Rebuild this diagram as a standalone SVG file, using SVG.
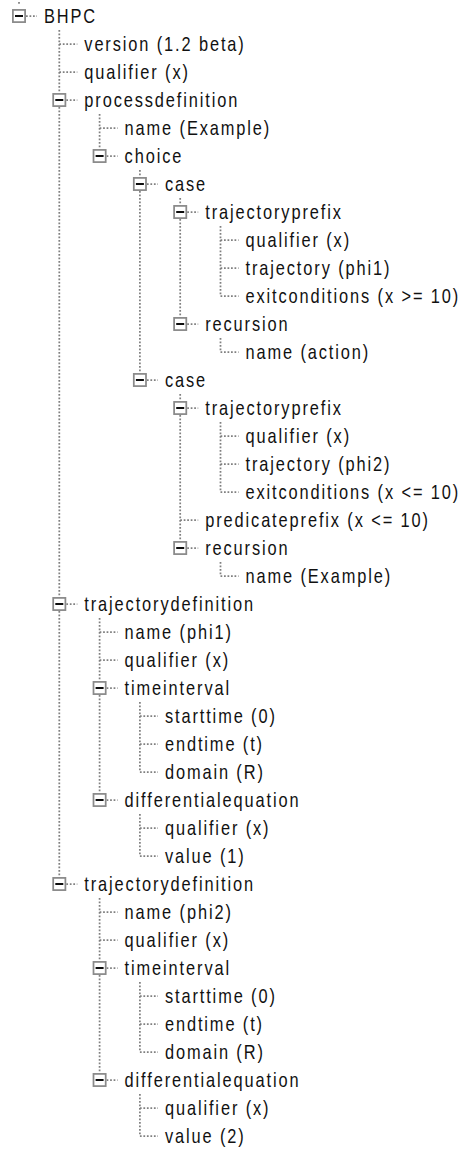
<svg xmlns="http://www.w3.org/2000/svg" xmlns:xlink="http://www.w3.org/1999/xlink" width="463" height="1149" viewBox="0 0 463 1149">
  <style>
    .dot { fill: none; stroke: #808080; stroke-width: 1.75; stroke-dasharray: 1.75 1.75; }
    .lbl { font-family: "Liberation Sans", Arial, sans-serif; font-size: 20px; letter-spacing: 2.3px; fill: #111; }
  </style>
  <defs>
    <!-- expanded-node toggle: grey square with a black minus -->
    <g id="minus">
      <rect x="-6.1" y="-6.1" width="12.2" height="12.2" fill="#fff" stroke="#8a8a8a" stroke-width="1.75"/>
      <line x1="-4" y1="0" x2="4" y2="0" stroke="#000" stroke-width="1.9"/>
    </g>
  </defs>
  <rect width="463" height="1149" fill="#fff"/>

  <!-- tree lines: columns at x = 19 + 40.3k, rows every 28px from y = 16 -->
  <g id="connectors" class="dot">
    <path d="M19 2v3"/>
    <!-- vertical sibling lines -->
    <path d="M59.3 30V884"/>
    <path d="M99.6 114V156"/>
    <path d="M139.9 170V380"/>
    <path d="M180.2 198V324"/>
    <path d="M220.5 226V296"/>
    <path d="M220.5 338V352"/>
    <path d="M180.2 394V548"/>
    <path d="M220.5 422V492"/>
    <path d="M220.5 562V576"/>
    <path d="M99.6 618V800"/>
    <path d="M139.9 702V772"/>
    <path d="M139.9 814V856"/>
    <path d="M99.6 898V1080"/>
    <path d="M139.9 982V1052"/>
    <path d="M139.9 1094V1136"/>
    <!-- horizontal stubs from box or line to label -->
    <path d="M26 16H37"/>
    <path d="M59.3 44H77.3"/>
    <path d="M59.3 72H77.3"/>
    <path d="M66.3 100H77.3"/>
    <path d="M99.6 128H117.6"/>
    <path d="M106.6 156H117.6"/>
    <path d="M146.9 184H157.9"/>
    <path d="M187.2 212H198.2"/>
    <path d="M220.5 240H238.5"/>
    <path d="M220.5 268H238.5"/>
    <path d="M220.5 296H238.5"/>
    <path d="M187.2 324H198.2"/>
    <path d="M220.5 352H238.5"/>
    <path d="M146.9 380H157.9"/>
    <path d="M187.2 408H198.2"/>
    <path d="M220.5 436H238.5"/>
    <path d="M220.5 464H238.5"/>
    <path d="M220.5 492H238.5"/>
    <path d="M180.2 520H198.2"/>
    <path d="M187.2 548H198.2"/>
    <path d="M220.5 576H238.5"/>
    <path d="M66.3 604H77.3"/>
    <path d="M99.6 632H117.6"/>
    <path d="M99.6 660H117.6"/>
    <path d="M106.6 688H117.6"/>
    <path d="M139.9 716H157.9"/>
    <path d="M139.9 744H157.9"/>
    <path d="M139.9 772H157.9"/>
    <path d="M106.6 800H117.6"/>
    <path d="M139.9 828H157.9"/>
    <path d="M139.9 856H157.9"/>
    <path d="M66.3 884H77.3"/>
    <path d="M99.6 912H117.6"/>
    <path d="M99.6 940H117.6"/>
    <path d="M106.6 968H117.6"/>
    <path d="M139.9 996H157.9"/>
    <path d="M139.9 1024H157.9"/>
    <path d="M139.9 1052H157.9"/>
    <path d="M106.6 1080H117.6"/>
    <path d="M139.9 1108H157.9"/>
    <path d="M139.9 1136H157.9"/>
  </g>

  <!-- labels use a narrowed sans (scale .82 horizontally) to get the tall, spaced bitmap-font look -->
  <g id="bhpc"><use xlink:href="#minus" x="19" y="16"/><text class="lbl" transform="translate(44 23.2) scale(.82 1)">BHPC</text></g>
  <g id="version"><text class="lbl" transform="translate(84.3 51.2) scale(.82 1)">version (1.2 beta)</text></g>
  <g id="qualifier-root"><text class="lbl" transform="translate(84.3 79.2) scale(.82 1)">qualifier (x)</text></g>
  <g id="processdefinition"><use xlink:href="#minus" x="59.3" y="100"/><text class="lbl" transform="translate(84.3 107.2) scale(.82 1)">processdefinition</text></g>
  <g id="pd-name"><text class="lbl" transform="translate(124.6 135.2) scale(.82 1)">name (Example)</text></g>
  <g id="choice"><use xlink:href="#minus" x="99.6" y="156"/><text class="lbl" transform="translate(124.6 163.2) scale(.82 1)">choice</text></g>
  <g id="case-1"><use xlink:href="#minus" x="139.9" y="184"/><text class="lbl" transform="translate(164.9 191.2) scale(.82 1)">case</text></g>
  <g id="trajectoryprefix-1"><use xlink:href="#minus" x="180.2" y="212"/><text class="lbl" transform="translate(205.2 219.2) scale(.82 1)">trajectoryprefix</text></g>
  <g id="tp1-qualifier"><text class="lbl" transform="translate(245.5 247.2) scale(.82 1)">qualifier (x)</text></g>
  <g id="tp1-trajectory"><text class="lbl" transform="translate(245.5 275.2) scale(.82 1)">trajectory (phi1)</text></g>
  <g id="tp1-exitconditions"><text class="lbl" transform="translate(245.5 303.2) scale(.82 1)">exitconditions (x &gt;= 10)</text></g>
  <g id="recursion-1"><use xlink:href="#minus" x="180.2" y="324"/><text class="lbl" transform="translate(205.2 331.2) scale(.82 1)">recursion</text></g>
  <g id="rec1-name"><text class="lbl" transform="translate(245.5 359.2) scale(.82 1)">name (action)</text></g>
  <g id="case-2"><use xlink:href="#minus" x="139.9" y="380"/><text class="lbl" transform="translate(164.9 387.2) scale(.82 1)">case</text></g>
  <g id="trajectoryprefix-2"><use xlink:href="#minus" x="180.2" y="408"/><text class="lbl" transform="translate(205.2 415.2) scale(.82 1)">trajectoryprefix</text></g>
  <g id="tp2-qualifier"><text class="lbl" transform="translate(245.5 443.2) scale(.82 1)">qualifier (x)</text></g>
  <g id="tp2-trajectory"><text class="lbl" transform="translate(245.5 471.2) scale(.82 1)">trajectory (phi2)</text></g>
  <g id="tp2-exitconditions"><text class="lbl" transform="translate(245.5 499.2) scale(.82 1)">exitconditions (x &lt;= 10)</text></g>
  <g id="predicateprefix"><text class="lbl" transform="translate(205.2 527.2) scale(.82 1)">predicateprefix (x &lt;= 10)</text></g>
  <g id="recursion-2"><use xlink:href="#minus" x="180.2" y="548"/><text class="lbl" transform="translate(205.2 555.2) scale(.82 1)">recursion</text></g>
  <g id="rec2-name"><text class="lbl" transform="translate(245.5 583.2) scale(.82 1)">name (Example)</text></g>

  <g id="trajectorydefinition-1"><use xlink:href="#minus" x="59.3" y="604"/><text class="lbl" transform="translate(84.3 611.2) scale(.82 1)">trajectorydefinition</text></g>
  <g id="td1-name"><text class="lbl" transform="translate(124.6 639.2) scale(.82 1)">name (phi1)</text></g>
  <g id="td1-qualifier"><text class="lbl" transform="translate(124.6 667.2) scale(.82 1)">qualifier (x)</text></g>
  <g id="timeinterval-1"><use xlink:href="#minus" x="99.6" y="688"/><text class="lbl" transform="translate(124.6 695.2) scale(.82 1)">timeinterval</text></g>
  <g id="ti1-starttime"><text class="lbl" transform="translate(164.9 723.2) scale(.82 1)">starttime (0)</text></g>
  <g id="ti1-endtime"><text class="lbl" transform="translate(164.9 751.2) scale(.82 1)">endtime (t)</text></g>
  <g id="ti1-domain"><text class="lbl" transform="translate(164.9 779.2) scale(.82 1)">domain (R)</text></g>
  <g id="differentialequation-1"><use xlink:href="#minus" x="99.6" y="800"/><text class="lbl" transform="translate(124.6 807.2) scale(.82 1)">differentialequation</text></g>
  <g id="de1-qualifier"><text class="lbl" transform="translate(164.9 835.2) scale(.82 1)">qualifier (x)</text></g>
  <g id="de1-value"><text class="lbl" transform="translate(164.9 863.2) scale(.82 1)">value (1)</text></g>

  <g id="trajectorydefinition-2"><use xlink:href="#minus" x="59.3" y="884"/><text class="lbl" transform="translate(84.3 891.2) scale(.82 1)">trajectorydefinition</text></g>
  <g id="td2-name"><text class="lbl" transform="translate(124.6 919.2) scale(.82 1)">name (phi2)</text></g>
  <g id="td2-qualifier"><text class="lbl" transform="translate(124.6 947.2) scale(.82 1)">qualifier (x)</text></g>
  <g id="timeinterval-2"><use xlink:href="#minus" x="99.6" y="968"/><text class="lbl" transform="translate(124.6 975.2) scale(.82 1)">timeinterval</text></g>
  <g id="ti2-starttime"><text class="lbl" transform="translate(164.9 1003.2) scale(.82 1)">starttime (0)</text></g>
  <g id="ti2-endtime"><text class="lbl" transform="translate(164.9 1031.2) scale(.82 1)">endtime (t)</text></g>
  <g id="ti2-domain"><text class="lbl" transform="translate(164.9 1059.2) scale(.82 1)">domain (R)</text></g>
  <g id="differentialequation-2"><use xlink:href="#minus" x="99.6" y="1080"/><text class="lbl" transform="translate(124.6 1087.2) scale(.82 1)">differentialequation</text></g>
  <g id="de2-qualifier"><text class="lbl" transform="translate(164.9 1115.2) scale(.82 1)">qualifier (x)</text></g>
  <g id="de2-value"><text class="lbl" transform="translate(164.9 1143.2) scale(.82 1)">value (2)</text></g>
</svg>
